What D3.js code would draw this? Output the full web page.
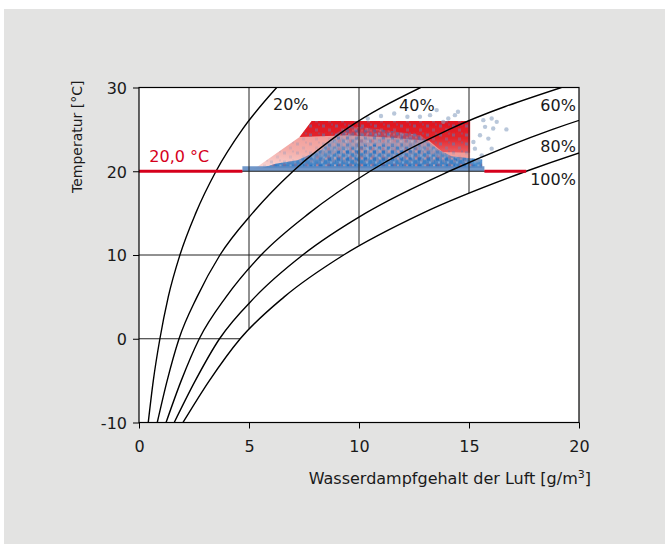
<!DOCTYPE html>
<html>
<head>
<meta charset="utf-8">
<script src="https://cdn.jsdelivr.net/npm/d3@7"></script>
<style>
  body { margin: 0; background: #fff; }
  text { font-family: "DejaVu Sans", sans-serif; fill: #1a1a1a; }
</style>
</head>
<body>
<div id="chart"></div>
<script>
// temperature steps the curves are read at (°C)
const temps = [-10, -5, 0, 5, 10, 15, 20, 25, 30];

// absolute humidity (g/m3) of each relative-humidity curve
const hum20  = [0.42, 0.65, 0.95, 1.33, 1.86, 2.58, 3.5, 4.7, 6.26];
const hum40  = [0.83, 1.28, 1.82, 2.64, 3.68, 5.16, 7.0, 9.4, 12.8];
const hum60  = [1.23, 1.92, 2.74, 3.96, 5.55, 7.74, 10.5, 14.1, 19.2];
const hum80  = [1.60, 2.56, 3.66, 5.28, 7.44, 10.3, 14.1, 18.8, 25.3];
const hum100 = [2.0, 3.2, 4.6, 6.6, 9.3, 12.9, 17.6, 23.5, 31.6];
const rhNames = ["20%", "40%", "60%", "80%", "100%"];

const xTicks = [0, 5, 10, 15, 20];
const yTicks = [-10, 0, 10, 20, 30];

// grid lines stop at the 100% curve
const vGrid = [[5, 1.2], [10, 11.2], [15, 17.4]];    // [g/m3, lowest °C]
const hGrid = [[0, 4.6], [10, 9.3], [20, 17.6]];     // [°C, largest g/m3]

// 20 °C set point line, broken by the cloud
const setTemp = 20;
const setParts = [[0, 4.7], [15.7, 17.6]];

const pinkArea = [[5.25, 20.3], [7.3, 24.1], [7.85, 26], [15.05, 26], [15.05, 20.3]];
const redBand  = [[7.3, 24.1], [7.85, 26], [15.05, 26], [15.05, 22.2], [13.8, 22.3], [13.2, 23.6], [11.5, 24.0], [9.5, 24.3]];
const blueArea = [[5.6, 20.4], [15.6, 20.4], [15.6, 21.4], [14.2, 21.8], [13.6, 22.6], [12.8, 24.3], [11, 25],
                  [9.6, 25.4], [9.0, 24.6], [8.3, 22.6], [7.2, 21.3], [6.2, 20.9]];
const blueCore = [[7.5, 20.4], [15.3, 20.4], [15.0, 21.3], [13.6, 21.8], [12.5, 22.8], [10.5, 23.2], [9.2, 22.6], [8.2, 21.2]];
const stripe   = [[4.7, 20], [15.7, 20], [15.7, 20.6], [4.7, 20.6]];
const strayPts = [[13.83, 25.9], [14.36, 26.7], [13.53, 27.3], [14.06, 26.3], [13.23, 26.7], [12.77, 26.5],
                  [14.5, 27.1], [15.65, 26.1], [16.03, 26.3], [16.26, 25.9], [16.1, 25.1], [15.73, 25.3],
                  [15.5, 24.3], [15.88, 23.9], [16.03, 22.7], [15.58, 21.9], [15.42, 21.3], [15.27, 22.7],
                  [15.2, 23.5], [11.0, 26.6], [11.6, 26.9], [12.2, 26.5], [10.4, 26.3], [16.7, 25.0]];

const W = 665, H = 544;
const margin = {top: 87.5, right: 86, bottom: 121.5, left: 139};
const width = W - margin.left - margin.right,
      height = H - margin.top - margin.bottom;

const svg = d3.select("#chart").append("svg")
  .attr("width", W)
  .attr("height", H);

// grey panel
svg.append("rect")
  .attr("x", 4).attr("y", 9)
  .attr("width", W - 4).attr("height", H - 9)
  .attr("fill", "#e3e3e2");

const defs = svg.append("defs");
defs.append("clipPath").attr("id", "plotclip")
  .append("rect").attr("width", width).attr("height", height);

defs.append("filter").attr("id", "soft")
  .append("feGaussianBlur").attr("stdDeviation", 0.6);

const blueGrad = defs.append("linearGradient").attr("id", "blueGrad")
  .attr("x1", 0).attr("y1", 1).attr("x2", 0).attr("y2", 0);
blueGrad.append("stop").attr("offset", "0%").attr("stop-color", "#2a78c3").attr("stop-opacity", 0.95);
blueGrad.append("stop").attr("offset", "40%").attr("stop-color", "#3f86c9").attr("stop-opacity", 0.6);
blueGrad.append("stop").attr("offset", "100%").attr("stop-color", "#6d9fd3").attr("stop-opacity", 0.1);

const pinkGrad = defs.append("linearGradient").attr("id", "pinkGrad")
  .attr("x1", 0).attr("y1", 1).attr("x2", 0.6).attr("y2", 0);
pinkGrad.append("stop").attr("offset", "0%").attr("stop-color", "#fadad8");
pinkGrad.append("stop").attr("offset", "35%").attr("stop-color", "#f4aeaa");
pinkGrad.append("stop").attr("offset", "100%").attr("stop-color", "#ee8884");

const redGrad = defs.append("linearGradient").attr("id", "redGrad")
  .attr("x1", 0).attr("y1", 0).attr("x2", 0).attr("y2", 1);
redGrad.append("stop").attr("offset", "0%").attr("stop-color", "#e0141f");
redGrad.append("stop").attr("offset", "55%").attr("stop-color", "#e2262d");
redGrad.append("stop").attr("offset", "100%").attr("stop-color", "#e6434a").attr("stop-opacity", 0.7);

// speckle textures
function dots(id, w, h, spots) {
  const p = defs.append("pattern").attr("id", id)
    .attr("width", w).attr("height", h).attr("patternUnits", "userSpaceOnUse");
  spots.forEach(s => p.append("rect")
    .attr("x", s[0]).attr("y", s[1]).attr("width", s[2]).attr("height", s[2])
    .attr("fill", s[3]).attr("opacity", s[4]));
}
dots("blueDots", 13, 9, [[1, 1, 3, "#4a86c6", 0.6], [7, 5, 3, "#5b8fc8", 0.45], [10, 0, 2, "#3d7fc2", 0.4]]);
dots("blueDense", 9, 7, [[0, 0, 3, "#2872c0", 0.8], [5, 3, 3, "#367fc5", 0.7], [2, 4, 2, "#8fb4dd", 0.5], [6, 0, 2, "#f0a09c", 0.4]]);
dots("redDots", 11, 8, [[1, 4, 3, "#ea4c52", 0.55], [6, 0, 3, "#f29592", 0.5], [8, 5, 2, "#ffffff", 0.35]]);

const g = svg.append("g")
  .attr("transform", `translate(${margin.left},${margin.top})`);

g.append("rect")
  .attr("width", width).attr("height", height)
  .attr("fill", "#fff");

const x = d3.scaleLinear().domain([0, 20]).range([0, width]);
const y = d3.scaleLinear().domain([-10, 30]).range([height, 0]);

const area = d3.line().x(d => x(d[0])).y(d => y(d[1]));

// cloud
const cloud = g.append("g").attr("clip-path", "url(#plotclip)")
  .append("g").attr("filter", "url(#soft)");
cloud.append("path").attr("d", area(pinkArea) + "Z").attr("fill", "url(#pinkGrad)");
cloud.append("path").attr("d", area(pinkArea) + "Z").attr("fill", "url(#blueDots)").attr("opacity", 0.35);
cloud.append("path").attr("d", area(redBand) + "Z").attr("fill", "url(#redGrad)");
cloud.append("path").attr("d", area(redBand) + "Z").attr("fill", "url(#blueDots)").attr("opacity", 0.8);
cloud.append("path").attr("d", area(blueArea) + "Z").attr("fill", "url(#blueGrad)");
cloud.append("path").attr("d", area(blueArea) + "Z").attr("fill", "url(#blueDense)").attr("opacity", 0.6);
cloud.append("path").attr("d", area(blueCore) + "Z").attr("fill", "url(#blueDense)");
cloud.append("path").attr("d", area(blueArea) + "Z").attr("fill", "url(#redDots)").attr("opacity", 0.45);
cloud.append("path").attr("d", area(stripe) + "Z").attr("fill", "#5f8cc3").attr("opacity", 0.9);
cloud.selectAll(".stray")
  .data(strayPts)
  .enter().append("circle")
  .attr("class", "stray")
  .attr("cx", d => x(d[0]))
  .attr("cy", d => y(d[1]))
  .attr("r", 2.2)
  .attr("fill", "#8aa2c2")
  .attr("opacity", 0.6);

// grid
g.selectAll(".vgrid")
  .data(vGrid)
  .enter().append("line")
  .attr("class", "vgrid")
  .attr("x1", d => x(d[0])).attr("x2", d => x(d[0]))
  .attr("y1", y(30)).attr("y2", d => y(d[1]))
  .attr("stroke", "#222").attr("stroke-width", 1);

g.selectAll(".hgrid")
  .data(hGrid)
  .enter().append("line")
  .attr("class", "hgrid")
  .attr("x1", x(0)).attr("x2", d => x(d[1]))
  .attr("y1", d => y(d[0])).attr("y2", d => y(d[0]))
  .attr("stroke", "#222").attr("stroke-width", 1);

// humidity curves
const curves = [hum20, hum40, hum60, hum80, hum100];
const line = d3.line()
  .x(d => x(d[0]))
  .y(d => y(d[1]))
  .curve(d3.curveMonotoneX);

g.append("g").attr("clip-path", "url(#plotclip)")
  .selectAll(".rh")
  .data(curves)
  .enter().append("path")
  .attr("class", "rh")
  .attr("d", d => line(d.map((h, i) => [h, temps[i]])))
  .attr("fill", "none")
  .attr("stroke", "#000")
  .attr("stroke-width", 1.4);

// 20 °C line
g.selectAll(".setline")
  .data(setParts)
  .enter().append("line")
  .attr("class", "setline")
  .attr("x1", d => x(d[0])).attr("x2", d => x(d[1]))
  .attr("y1", y(setTemp)).attr("y2", y(setTemp))
  .attr("stroke", "#d6001c").attr("stroke-width", 3);

g.append("text")
  .attr("x", x(0.47)).attr("y", y(21.14))
  .style("font-size", "16px")
  .style("fill", "#d6001c")
  .text("20,0 °C");

// curve labels
const labelPos = [[6.09, 27.3, "start"], [11.82, 27.2, "start"], [19.86, 27.2, "end"], [19.86, 22.3, "end"], [19.86, 18.36, "end"]];
g.selectAll(".rhlabel")
  .data(rhNames)
  .enter().append("text")
  .attr("class", "rhlabel")
  .attr("x", (d, i) => x(labelPos[i][0]))
  .attr("y", (d, i) => y(labelPos[i][1]))
  .attr("text-anchor", (d, i) => labelPos[i][2])
  .style("font-size", "16px")
  .text(d => d);

// axes
const xAxis = g.append("g")
  .attr("transform", `translate(0,${height})`)
  .call(d3.axisBottom(x).tickValues(xTicks).tickSize(6).tickSizeOuter(0).tickPadding(8).tickFormat(d => String(d)));
const yAxis = g.append("g")
  .call(d3.axisLeft(y).tickValues(yTicks).tickSize(6).tickSizeOuter(0).tickPadding(6).tickFormat(d => String(d)));

[xAxis, yAxis].forEach(a => {
  a.select(".domain").remove();
  a.selectAll("line").attr("stroke", "#000");
  a.selectAll("text").style("font-size", "16px").style("font-family", "DejaVu Sans").attr("fill", "#1a1a1a");
});
xAxis.selectAll("text").attr("dy", "0.95em");
yAxis.selectAll("text").attr("dy", "0.36em");

g.append("rect")
  .attr("width", width).attr("height", height)
  .attr("fill", "none")
  .attr("stroke", "#000")
  .attr("stroke-width", 1.2);

// axis titles
const xt = g.append("text")
  .attr("x", width + 12)
  .attr("y", height + 61)
  .attr("text-anchor", "end")
  .style("font-size", "16px");
xt.append("tspan").text("Wasserdampfgehalt der Luft [g/m");
xt.append("tspan").attr("dy", -6).style("font-size", "11px").text("3");
xt.append("tspan").attr("dy", 6).text("]");

g.append("text")
  .attr("transform", `translate(${-57},${-7}) rotate(-90)`)
  .attr("text-anchor", "end")
  .style("font-size", "14px")
  .text("Temperatur [°C]");
</script>
</body>
</html>
